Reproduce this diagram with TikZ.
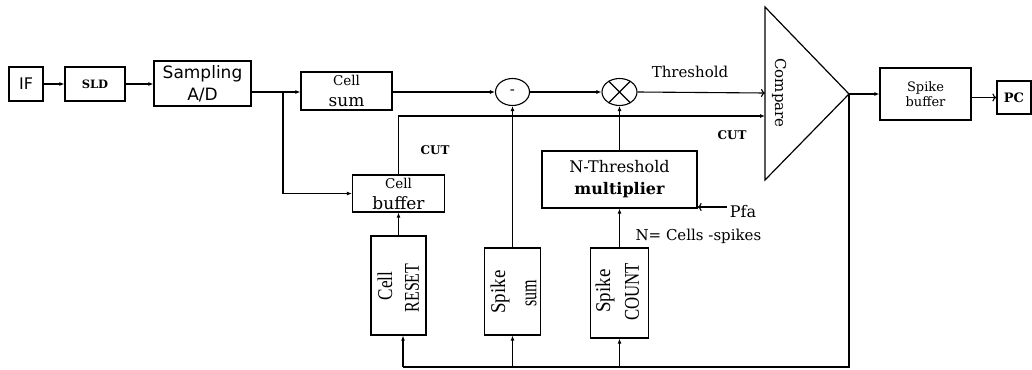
\documentclass[tikz,border=0pt]{standalone}
\usepackage{fontspec}
\setmainfont{DejaVu Serif}
\newfontfamily\tnr{Liberation Serif}
\newfontfamily\dvs{DejaVu Sans}
\usetikzlibrary{arrows.meta,shapes.geometric}
\newcommand\fsz[2]{\fontsize{#1}{#2}\selectfont}
\begin{document}
\begin{tikzpicture}[x=1pt,y=-1pt,
  line width=1.1pt,
  blk/.style={draw, line width=1.2pt, inner sep=0pt, align=center},
  ell/.style={draw, ellipse, line width=1.1pt, inner sep=0pt},
  ar/.style={-{Latex[length=5pt,width=4pt]}},
  oar/.style={-{To[length=4pt,width=8pt]}},
  lbl/.style={inner sep=0pt},
  vtxt/.style={inner sep=0pt, rotate=90, font=\tnr\fsz{21}{24}}
]
\useasboundingbox (0,0) rectangle (1032,369);

% boxes
\node[blk, minimum width=34pt, minimum height=34pt, font=\dvs\fsz{16}{20}] (if) at (26,84) {IF};
\node[blk, minimum width=60pt, minimum height=34pt, font=\bfseries\fsz{11.5}{14}] (sld) at (95,84) {SLD};
\node[blk, minimum width=97pt, minimum height=45pt, font=\dvs\fsz{17}{22}] (ad) at (202.5,83.5) {Sampling\\A/D};
\node[blk, minimum width=91pt, minimum height=38pt, font=\fsz{17}{21}] (cellsum) at (346.5,91) {{\fsz{13.5}{21}Cell}\\sum};
\node[blk, minimum width=92pt, minimum height=37pt, font=\fsz{17}{21}] (cellbuf) at (398.5,193.5) {{\fsz{13.5}{21}Cell}\\buffer};
\node[blk, minimum width=155pt, minimum height=57pt, font=\fsz{16}{22}] (nt) at (619.5,179.5) {N-Threshold\\\textbf{multiplier}};
\node[blk, minimum width=55pt, minimum height=99pt] (reset) at (398.5,285.5) {};
\node[blk, minimum width=56pt, minimum height=87pt] (spikesum) at (512.5,291.5) {};
\node[blk, minimum width=58pt, minimum height=90pt] (spikecount) at (619.5,293) {};
\node[blk, minimum width=91pt, minimum height=52pt, font=\fsz{13}{15}] (spikebuf) at (925.5,94) {Spike\\buffer};
\node[blk, minimum width=34pt, minimum height=33pt, font=\bfseries\fsz{13}{15}] (pc) at (1014,97.5) {PC};

% vertical texts
\node[vtxt] (resetA) at (385,286) {\scalebox{0.82}[1]{Cell}};
\node[vtxt] (resetB) at (412,288) {\scalebox{0.76}[1]{RESET}};
\node[vtxt] (sumA) at (500,292) {\scalebox{0.9}[1]{Spike}};
\node[vtxt, font=\tnr\fsz{23}{24}] (sumB) at (531,293) {\scalebox{0.7}[1]{sum}};
\node[vtxt] (cntA) at (605,291) {\scalebox{0.9}[1]{Spike}};
\node[vtxt] (cntB) at (632,292) {\scalebox{0.8}[1]{COUNT}};

% summing / multiplying junctions
\node[ell, minimum width=34pt, minimum height=27pt, font=\fsz{15}{18}] (minus) at (512.5,92) {-};
\node[ell, minimum width=35pt, minimum height=27pt] (times) at (619.5,92) {};
\draw (times.45) -- (times.225) (times.135) -- (times.315);

% comparator
\coordinate (ct) at (765,7);
\coordinate (cb) at (765,180);
\coordinate (tip) at (849,94);
\draw[line width=1.2pt] (ct) -- (tip) -- (cb) -- cycle;
\node[lbl, rotate=-90, font=\fsz{15}{18}] (cmp) at (779,93) {Compare};
\coordinate (thin) at (765,93);
\coordinate (cin) at (765,116);

% labels
\node[lbl, font=\fsz{15}{18}] (thr) at (690,72) {Threshold};
\node[lbl, font=\bfseries\fsz{12}{14}] (cut1) at (732,135) {CUT};
\node[lbl, font=\bfseries\fsz{12}{14}] (cut2) at (435,150) {CUT};
\node[lbl, font=\fsz{16}{18}] (pfa) at (743,212) {Pfa};
\node[lbl, anchor=west, font=\fsz{15}{18}] (nlab) at (635,236) {N= Cells -spikes};

% connectors
\coordinate (j) at (283,92);
\coordinate (busL) at (403,367);
\coordinate (busR) at (849,367);
\coordinate (pfa0) at (727,207);

\draw[ar] (if) -- (sld);
\draw[ar] (sld.east) -- (sld.east -| ad.west);
\draw (ad.east |- j) -- (j);
\draw[ar] (j) -- (j -| cellsum.west);
\draw[ar] (j) |- (cellbuf.west);
\draw[ar] (cellsum.east |- minus.west) -- (minus.west);
\draw[ar] (minus) -- (times);
\draw[oar] (times.east) -- (thin);
\draw[ar] (cellbuf.north) |- (cin);
\draw[ar] (spikesum.north) -- (minus.south);
\draw[ar] (nt.north) -- (times.south);
\draw[ar] (spikecount.north) -- (nt.south);
\draw[ar] (reset.north) -- (cellbuf.south);
\draw[oar] (pfa0) -- (pfa0 -| nt.east);
\draw[ar] (tip) -- (tip -| spikebuf.west);
\draw[oar] (spikebuf.east |- pc) -- (pc.west);
\draw (tip) -- (busR) -- (busL);
\draw[ar] (busL) -- (busL |- reset.south);
\draw[ar] (spikesum.south |- busL) -- (spikesum.south);
\draw[ar] (spikecount.south |- busL) -- (spikecount.south);
\end{tikzpicture}
\end{document}
